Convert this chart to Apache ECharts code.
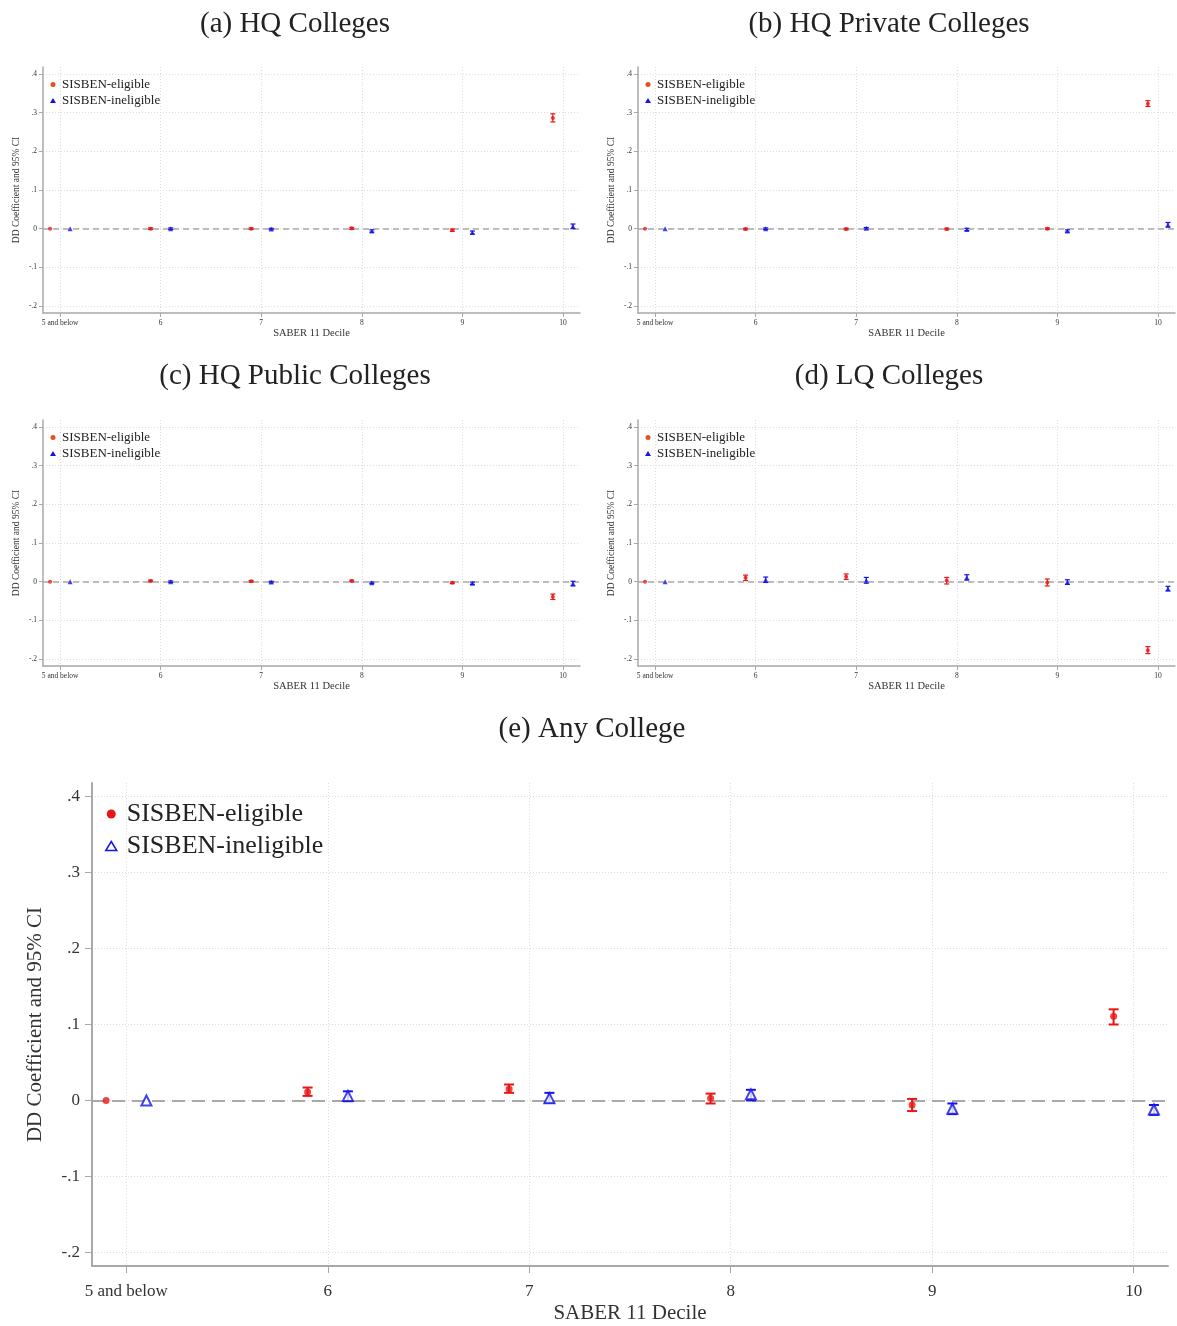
<!DOCTYPE html>
<html>
<head>
<meta charset="utf-8">
<script src="https://cdn.jsdelivr.net/npm/echarts@6/dist/echarts.min.js"></script>
<style>
html,body{margin:0;padding:0;background:#fff;}
#chart{width:1177px;height:1326px;}
</style>
</head>
<body>
<div id="chart"></div>
<script>
// ---------------- DATA ----------------
const xEligible = [4.9, 5.9, 6.9, 7.9, 8.9, 9.9];
const xIneligible = [5.1, 6.1, 7.1, 8.1, 9.1, 10.1];
const xTickValues = [5, 6, 7, 8, 9, 10];
const xTickLabels = ['5 and below', '6', '7', '8', '9', '10'];
const yTickValues = [-0.2, -0.1, 0, 0.1, 0.2, 0.3, 0.4];
const panelTitles = ['(a) HQ Colleges', '(b) HQ Private Colleges', '(c) HQ Public Colleges', '(d) LQ Colleges', '(e) Any College'];
const seriesNames = ['SISBEN-eligible', 'SISBEN-ineligible'];

// (a) HQ Colleges
const aEligCoef = [0, 0.000, 0.000, 0.001, -0.004, 0.286];
const aEligLo   = [null, -0.002, -0.002, -0.002, -0.007, 0.276];
const aEligHi   = [null, 0.002, 0.002, 0.003, -0.001, 0.297];
const aInelCoef = [0, 0.000, -0.001, -0.006, -0.010, 0.006];
const aInelLo   = [null, -0.002, -0.003, -0.009, -0.014, 0.000];
const aInelHi   = [null, 0.002, 0.001, -0.003, -0.006, 0.012];
// (b) HQ Private Colleges
const bEligCoef = [0, -0.001, -0.001, -0.001, 0.000, 0.323];
const bEligLo   = [null, -0.003, -0.003, -0.003, -0.002, 0.316];
const bEligHi   = [null, 0.001, 0.001, 0.001, 0.002, 0.331];
const bInelCoef = [0, 0.000, 0.001, -0.002, -0.006, 0.010];
const bInelLo   = [null, -0.002, -0.001, -0.005, -0.009, 0.004];
const bInelHi   = [null, 0.002, 0.003, 0.001, -0.003, 0.016];
// (c) HQ Public Colleges
const cEligCoef = [0, 0.002, 0.001, 0.002, -0.003, -0.039];
const cEligLo   = [null, 0.000, -0.001, 0.000, -0.005, -0.046];
const cEligHi   = [null, 0.004, 0.003, 0.004, -0.001, -0.032];
const cInelCoef = [0, 0.000, -0.001, -0.003, -0.004, -0.005];
const cInelLo   = [null, -0.002, -0.003, -0.005, -0.007, -0.011];
const cInelHi   = [null, 0.002, 0.001, -0.001, -0.001, 0.001];
// (d) LQ Colleges
const dEligCoef = [0, 0.010, 0.013, 0.003, -0.002, -0.177];
const dEligLo   = [null, 0.003, 0.006, -0.006, -0.011, -0.186];
const dEligHi   = [null, 0.017, 0.020, 0.011, 0.007, -0.168];
const dInelCoef = [0, 0.005, 0.004, 0.011, -0.001, -0.018];
const dInelLo   = [null, -0.002, -0.004, 0.004, -0.007, -0.024];
const dInelHi   = [null, 0.012, 0.011, 0.018, 0.005, -0.012];
// (e) Any College
const eEligCoef = [0, 0.011, 0.015, 0.003, -0.006, 0.111];
const eEligLo   = [null, 0.006, 0.010, -0.004, -0.014, 0.100];
const eEligHi   = [null, 0.017, 0.021, 0.009, 0.002, 0.120];
const eInelCoef = [0, 0.006, 0.003, 0.008, -0.011, -0.012];
const eInelLo   = [null, -0.001, -0.003, 0.000, -0.018, -0.019];
const eInelHi   = [null, 0.012, 0.010, 0.014, -0.004, -0.006];

// ---------------- BUILD ----------------
const FONT = "'Liberation Serif', 'DejaVu Serif', serif";
const RED = '#ea1515';
const BLUE = '#1414e6';

const panels = [
  {data: [aEligCoef, aEligLo, aEligHi, aInelCoef, aInelLo, aInelHi], big: false,
   grid: {left: 43, top: 67, width: 537, height: 246}, title: [295, 22]},
  {data: [bEligCoef, bEligLo, bEligHi, bInelCoef, bInelLo, bInelHi], big: false,
   grid: {left: 638, top: 67, width: 537, height: 246}, title: [889, 22]},
  {data: [cEligCoef, cEligLo, cEligHi, cInelCoef, cInelLo, cInelHi], big: false,
   grid: {left: 43, top: 420, width: 537, height: 246}, title: [295, 374]},
  {data: [dEligCoef, dEligLo, dEligHi, dInelCoef, dInelLo, dInelHi], big: false,
   grid: {left: 638, top: 420, width: 537, height: 246}, title: [889, 374]},
  {data: [eEligCoef, eEligLo, eEligHi, eInelCoef, eInelLo, eInelHi], big: true,
   grid: {left: 92, top: 783, width: 1076, height: 483}, title: [592, 727]}
];

function yFmt(v) {
  if (Math.abs(v) < 1e-9) return '0';
  return (v < 0 ? '-' : '') + Math.abs(v).toFixed(1).replace(/^0/, '');
}
function xFmt(v) {
  const i = xTickValues.findIndex(t => Math.abs(t - v) < 1e-6);
  return i >= 0 ? xTickLabels[i] : '';
}

const grids = [], xAxes = [], yAxes = [], series = [], legends = [], titles = [];
const TITLE_SIZE = 29;

panels.forEach((p, k) => {
  const big = p.big;
  grids.push(p.grid);
  titles.push({
    text: panelTitles[k], left: p.title[0], top: p.title[1] - TITLE_SIZE / 2 + 2, textAlign: 'center',
    padding: 0,
    textStyle: {fontFamily: FONT, fontSize: TITLE_SIZE, fontWeight: 'normal', color: '#222', lineHeight: TITLE_SIZE}
  });
  const gridLine = {show: true, lineStyle: {color: '#dcdcdc', type: [1, 2], width: 1}};
  xAxes.push({
    type: 'value', gridIndex: k, min: 4.83, max: 10.17,
    name: 'SABER 11 Decile', nameLocation: 'middle', nameGap: big ? 37 : 14,
    nameTextStyle: {fontFamily: FONT, fontSize: big ? 21 : 10.5, color: '#333'},
    axisLine: {show: true, onZero: false, lineStyle: {color: '#a8a8a8', width: big ? 2 : 1.5}},
    axisTick: {show: true, length: big ? 7 : 4, customValues: xTickValues, lineStyle: {color: '#a8a8a8'}},
    axisLabel: {customValues: xTickValues, formatter: xFmt, margin: big ? 17 : 6,
      fontFamily: FONT, fontSize: big ? 17 : 7.5, color: '#333', showMinLabel: true, showMaxLabel: true},
    splitLine: gridLine
  });
  yAxes.push({
    type: 'value', gridIndex: k, min: -0.218, max: 0.418,
    name: 'DD Coefficient and 95% CI', nameLocation: 'middle', nameRotate: 90, nameGap: big ? 46 : 22,
    nameTextStyle: {fontFamily: FONT, fontSize: big ? 21 : 9.5, color: '#333'},
    axisLine: {show: true, onZero: false, lineStyle: {color: '#a8a8a8', width: big ? 2 : 1.5}},
    axisTick: {show: true, length: big ? 7 : 4, customValues: yTickValues, lineStyle: {color: '#a8a8a8'}},
    axisLabel: {customValues: yTickValues, formatter: yFmt, margin: big ? 12 : 6,
      fontFamily: FONT, fontSize: big ? 17 : 7.5, color: '#333'},
    splitLine: gridLine
  });

  const [ec, el, eh, ic, il, ih] = p.data;
  const groups = [
    {name: seriesNames[0], xs: xEligible, c: ec, lo: el, hi: eh, color: RED},
    {name: seriesNames[1], xs: xIneligible, c: ic, lo: il, hi: ih, color: BLUE}
  ];
  groups.forEach((g, gi) => {
    const errData = [];
    g.xs.forEach((x, i) => { if (g.lo[i] != null) errData.push([x, g.lo[i], g.hi[i]]); });
    const cap = big ? 5 : 2.5;
    const lw = big ? 2 : 1.2;
    series.push({
      type: 'custom', name: g.name, xAxisIndex: k, yAxisIndex: k,
      data: errData, z: 3, silent: true,
      encode: {x: 0, y: [1, 2]},
      renderItem: function (params, api) {
        const x = api.value(0);
        const a = api.coord([x, api.value(1)]);
        const b = api.coord([x, api.value(2)]);
        const st = {stroke: g.color, lineWidth: lw};
        return {type: 'group', children: [
          {type: 'line', shape: {x1: a[0], y1: a[1], x2: b[0], y2: b[1]}, style: st},
          {type: 'line', shape: {x1: a[0] - cap, y1: a[1], x2: a[0] + cap, y2: a[1]}, style: st},
          {type: 'line', shape: {x1: b[0] - cap, y1: b[1], x2: b[0] + cap, y2: b[1]}, style: st}
        ]};
      },
      markLine: gi === 0 ? {
        silent: true, symbol: 'none', label: {show: false},
        lineStyle: {color: '#a9a9a9', type: big ? [13, 7] : [6, 4], width: big ? 2 : 1.5},
        data: [{yAxis: 0}], z: 2
      } : undefined
    });
    const pts = g.xs.map((x, i) => [x, g.c[i]]);
    series.push({
      type: 'scatter', name: g.name, xAxisIndex: k, yAxisIndex: k, data: pts, z: 4,
      symbol: gi === 0 ? 'circle' : 'triangle',
      symbolSize: gi === 0 ? (big ? 7 : 4) : (big ? 10 : 5),
      itemStyle: gi === 0 ? {color: g.color} :
        (big ? {color: '#ffffff', borderColor: g.color, borderWidth: 2} : {color: g.color}),
      emphasis: {disabled: true}
    });
  });

  legends.push({
    left: big ? 100 : p.grid.left + 2,
    top: big ? 796 : p.grid.top + 6,
    orient: 'vertical',
    itemGap: big ? 6 : 3,
    itemWidth: big ? 11 : 6,
    itemHeight: big ? 9 : 5,
    textStyle: {fontFamily: FONT, fontSize: big ? 26 : 13, color: '#222', padding: [0, 0, 0, big ? 5 : 1]},
    selectedMode: false,
    data: [
      {name: seriesNames[0], icon: 'circle', itemStyle: {color: big ? RED : '#e8501a', borderWidth: 0}},
      {name: seriesNames[1], icon: 'triangle', itemStyle: big ? {color: '#fff', borderColor: BLUE, borderWidth: 1.5} : {color: BLUE, borderWidth: 0}}
    ]
  });
});

const chart = echarts.init(document.getElementById('chart'), null, {renderer: 'canvas'});
chart.setOption({
  animation: false,
  backgroundColor: '#ffffff',
  title: titles,
  grid: grids,
  xAxis: xAxes,
  yAxis: yAxes,
  legend: legends,
  series: series
});
</script>
</body>
</html>
